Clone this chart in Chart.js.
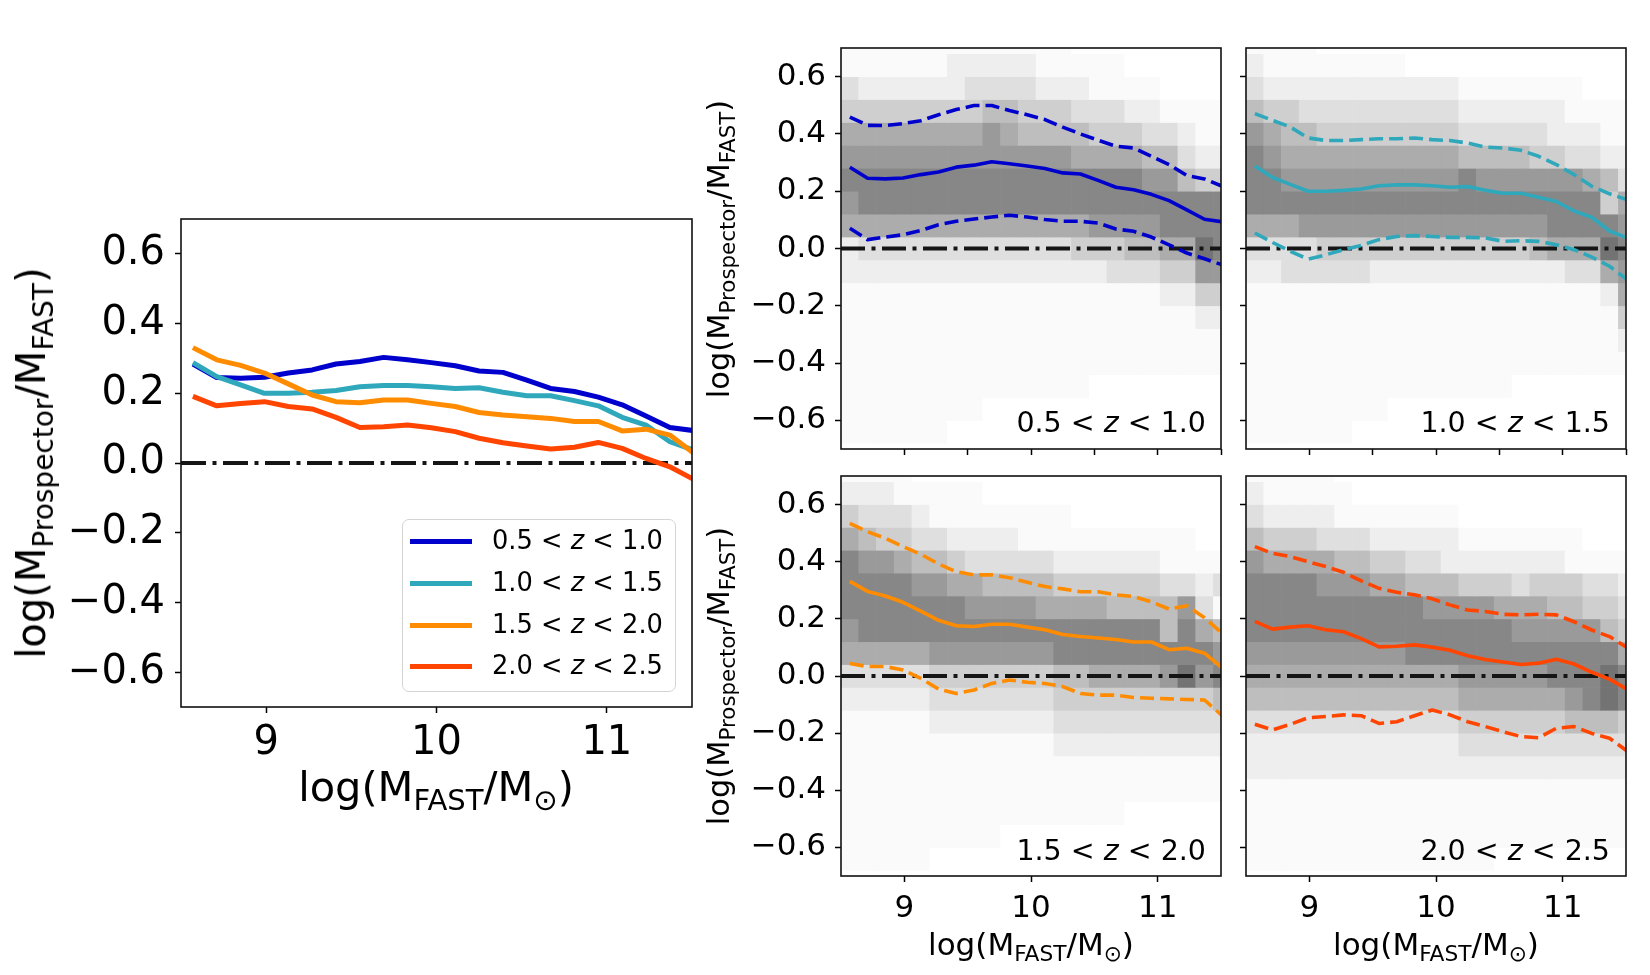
<!DOCTYPE html>
<html><head><meta charset="utf-8">
<script src="https://cdn.jsdelivr.net/npm/chart.js@4.4.0/dist/chart.umd.min.js"></script>
<style>
html,body{margin:0;padding:0;background:#fff;}
body{width:1650px;height:975px;position:relative;overflow:hidden;font-family:"DejaVu Sans",sans-serif;color:#000;}
canvas{position:absolute;}
.t{position:absolute;white-space:nowrap;line-height:1;z-index:6;}
.c{transform:translate(-50%,-50%);}
.r{transform:translate(-50%,-50%) rotate(-90deg);}
.rv{transform:translateY(-50%);}
.sub{font-size:70%;vertical-align:-0.3em;line-height:0;}
i{font-style:italic;}
</style></head>
<body>
<canvas id="cL" width="720" height="600" style="left:0px;top:180px"></canvas>
<canvas id="c1" width="510" height="460" style="left:730px;top:20px"></canvas>
<canvas id="c2" width="414" height="460" style="left:1236px;top:20px"></canvas>
<canvas id="c3" width="510" height="480" style="left:730px;top:450px"></canvas>
<canvas id="c4" width="414" height="480" style="left:1236px;top:450px"></canvas>

<div class="t r" style="left:31px;top:463px;font-size:40px">log(M<span class="sub">Prospector</span>/M<span class="sub">FAST</span>)</div>
<div class="t c" style="left:436px;top:787px;font-size:41.5px">log(M<span class="sub">FAST</span>/M<span class="sub">⊙</span>)</div>
<div class="t r" style="left:719px;top:249px;font-size:30.5px">log(M<span class="sub">Prospector</span>/M<span class="sub">FAST</span>)</div>
<div class="t r" style="left:719px;top:676px;font-size:30.5px">log(M<span class="sub">Prospector</span>/M<span class="sub">FAST</span>)</div>
<div class="t c" style="left:1031px;top:944px;font-size:31px">log(M<span class="sub">FAST</span>/M<span class="sub">⊙</span>)</div>
<div class="t c" style="left:1436px;top:944px;font-size:31px">log(M<span class="sub">FAST</span>/M<span class="sub">⊙</span>)</div>
<div id="legend" style="position:absolute;left:402px;top:519px;width:272px;height:171px;border:1.5px solid #d4d4d4;border-radius:7px;background:rgba(255,255,255,0.85);z-index:5;"></div>

<script>
// ---------------- data ----------------
const zBins = [['0.5','1.0'],['1.0','1.5'],['1.5','2.0'],['2.0','2.5']];
const zColors = ['#0000CD','#2FA8BC','#FF8C00','#FF4500'];
const xMin = 8.5, xMax = 11.5, yMin = -0.7, yMax = 0.7;
const massBins = [8.57,8.71,8.85,8.99,9.13,9.27,9.41,9.55,9.69,9.83,9.97,10.11,10.25,10.39,10.53,10.67,10.81,10.95,11.09,11.23,11.37,11.51];
const heatYEdges = [0.76,0.68,0.60,0.52,0.44,0.36,0.28,0.20,0.12,0.04,-0.04,-0.12,-0.20,-0.28,-0.36,-0.44,-0.52,-0.60,-0.68,-0.76];
const xTicksMain = [9,10,11];
const xTickLabelsMain = ['9','10','11'];
const xTicksTop = [9,9.5,10,10.5,11,11.5];
const yTicks = [-0.6,-0.4,-0.2,0.0,0.2,0.4,0.6];
const yTickLabels = ['\u22120.6','\u22120.4','\u22120.2','0.0','0.2','0.4','0.6'];
const zeroLevel = 0;

// medians
const medZ1 = [0.284,0.245,0.243,0.246,0.258,0.267,0.284,0.291,0.303,0.296,0.288,0.279,0.264,0.260,0.238,0.214,0.205,0.189,0.167,0.135,0.102,0.093];
const medZ2 = [0.288,0.248,0.224,0.200,0.200,0.203,0.208,0.219,0.222,0.222,0.219,0.214,0.216,0.203,0.193,0.193,0.179,0.164,0.131,0.109,0.061,0.037];
const medZ3 = [0.331,0.296,0.280,0.258,0.227,0.195,0.176,0.173,0.181,0.181,0.171,0.162,0.145,0.138,0.133,0.128,0.119,0.119,0.092,0.097,0.080,0.028];
const medZ4 = [0.191,0.164,0.171,0.176,0.162,0.155,0.131,0.102,0.104,0.109,0.101,0.090,0.071,0.058,0.049,0.040,0.045,0.059,0.042,0.013,-0.011,-0.047];
// upper / lower percentiles
const hiZ1 = [0.459,0.430,0.429,0.436,0.446,0.467,0.485,0.499,0.499,0.482,0.467,0.450,0.424,0.400,0.378,0.357,0.351,0.322,0.293,0.255,0.243,0.217];
const loZ1 = [0.071,0.031,0.040,0.048,0.063,0.083,0.095,0.103,0.110,0.116,0.110,0.101,0.095,0.095,0.089,0.068,0.060,0.040,0.013,-0.016,-0.036,-0.057];
const hiZ2 = [0.471,0.447,0.424,0.386,0.377,0.377,0.380,0.383,0.383,0.386,0.380,0.377,0.368,0.354,0.351,0.343,0.322,0.293,0.258,0.217,0.191,0.170];
const loZ2 = [0.054,0.021,-0.010,-0.037,-0.022,-0.004,0.011,0.031,0.042,0.045,0.042,0.039,0.039,0.037,0.025,0.027,0.025,0.013,-0.004,-0.030,-0.062,-0.109];
const hiZ3 = [0.534,0.505,0.482,0.453,0.426,0.392,0.365,0.354,0.354,0.344,0.328,0.313,0.305,0.295,0.295,0.284,0.278,0.260,0.234,0.246,0.204,0.149];
const loZ3 = [0.044,0.033,0.033,0.021,-0.008,-0.046,-0.061,-0.049,-0.026,-0.014,-0.022,-0.026,-0.037,-0.061,-0.067,-0.067,-0.075,-0.078,-0.080,-0.082,-0.084,-0.139];
const hiZ4 = [0.453,0.429,0.418,0.400,0.383,0.363,0.333,0.307,0.293,0.284,0.270,0.249,0.231,0.226,0.216,0.214,0.216,0.214,0.190,0.161,0.138,0.099];
const loZ4 = [-0.169,-0.189,-0.169,-0.146,-0.142,-0.136,-0.139,-0.166,-0.160,-0.139,-0.119,-0.136,-0.160,-0.177,-0.195,-0.212,-0.216,-0.183,-0.177,-0.201,-0.218,-0.263];

// 2D histogram density levels (0 = empty .. 9 = densest), rows top -> bottom, columns = massBins
const heatZ1 = [
"1111111111111000000000",
"1111112222211111000000",
"3222222333322211110000",
"4444444455444333221111",
"6666666676555544433211",
"7777777777777666655322",
"8888888888888888877544",
"7888888888888888888888",
"6666666666666677778888",
"2333333333333444556698",
"2222222222222223334477",
"1111111111111111112244",
"1111111111111111111122",
"1111111111111111111111",
"1111111111111111111111",
"1111111111111100000000",
"1111111100000000000000",
"1111110000000000000000",
"0000000000000000000000"];
const heatZ2 = [
"1111000000000000000000",
"2111111110000000000000",
"3222222222221111111000",
"5443333333332222221111",
"7655444444443333322211",
"8766666666665555443322",
"8877777777778777777653",
"8888888888888888888846",
"6667777777777777788887",
"3333444444444444566698",
"2233333222222222223367",
"1111111111111111111126",
"1111111111111111111114",
"1111111111111111111112",
"1111111111111111111111",
"1111111111111110000000",
"1111111100000000000000",
"1111110000000000000000",
"0000000000000000000000"];
const heatZ3 = [
"1111000000000000000000",
"2221111100000000000000",
"4333211111111000000000",
"6544332222111111111100",
"8776554333332222221111",
"8888776655554444443323",
"8888888777766665555731",
"7888888888888888885865",
"6666677777778888888887",
"3333344444445566667978",
"2222233333334444444445",
"1111122222223333333333",
"1111111111112222222222",
"1111111111111111111111",
"1111111111111111111111",
"1111111111111111000000",
"1111111110000000000000",
"1111100000000000000000",
"0000000000000000000000"];
const heatZ4 = [
"1111100000000000000000",
"2111110000000000000000",
"3222211111110000000000",
"5444333222221111111000",
"7666655443322222221111",
"8888777665554443444332",
"8888888888777766655443",
"8888888888888887777754",
"7777777778888888888886",
"6666666666667777788898",
"5555555555556666667898",
"3333333333334444445554",
"2222222222223333333333",
"2222222222222222222222",
"1111111111111111111111",
"1111111111111111111111",
"1111111111111111111111",
"1111111111111100000000",
"0000000000000000000000"];
const greyLevels = [255,250,238,223,207,190,172,154,135,115];

// ---------------- helpers ----------------
const FONT = '"DejaVu Sans", sans-serif';
function greyOf(d){ const g = greyLevels[d]; return 'rgb(' + g + ',' + g + ',' + g + ')'; }

const spinePlugin = {
  id: 'spines',
  afterDatasetsDraw(chart){
    const {ctx, chartArea: a} = chart;
    ctx.save();
    ctx.strokeStyle = '#111';
    ctx.lineWidth = 1.6;
    ctx.strokeRect(a.left, a.top, a.right - a.left, a.bottom - a.top);
    ctx.restore();
  }
};

function heatDatasets(grid){
  const out = [];
  for (let r = 0; r < grid.length; r++){
    out.push({
      type: 'bar',
      data: massBins.map(x => ({x: x, y: [heatYEdges[r + 1], heatYEdges[r]]})),
      backgroundColor: massBins.map((x, j) => greyOf(+grid[r][j])),
      borderWidth: 0, borderSkipped: false, grouped: false,
      barPercentage: 1, categoryPercentage: 1, order: 20, clip: 0
    });
  }
  return out;
}
function lineDs(vals, color, width, dash, order){
  return {
    type: 'line',
    data: massBins.map((x, i) => ({x: x, y: vals[i]})),
    borderColor: color, borderWidth: width, borderDash: dash || [],
    pointRadius: 0, pointHoverRadius: 0, fill: false, tension: 0,
    borderJoinStyle: 'round', borderCapStyle: 'butt', order: order, clip: 0
  };
}
function zeroDs(width, dash){
  return {
    type: 'line',
    data: [{x: xMin, y: zeroLevel}, {x: xMax, y: zeroLevel}],
    borderColor: '#151515', borderWidth: width, borderDash: dash,
    pointRadius: 0, fill: false, order: 10, clip: 0
  };
}
function zeroPad(s){ s.paddingLeft = 0; s.paddingRight = 0; s.paddingTop = 0; s.paddingBottom = 0; }

function makeChart(id, type, datasets, o){
  const grid = {display: true, drawOnChartArea: false, drawTicks: true, tickLength: 6, tickWidth: 1.5, tickColor: '#000', offset: false};
  return new Chart(document.getElementById(id), {
    type: type,
    data: {datasets: datasets},
    options: {
      responsive: false, maintainAspectRatio: false, animation: false, events: [],
      layout: {padding: {left: 0, top: o.padTop, right: o.padRight, bottom: 0}},
      plugins: {legend: {display: false}, tooltip: {enabled: false}, title: {display: false}},
      scales: {
        x: {
          type: 'linear', min: xMin, max: xMax, offset: false,
          afterBuildTicks: s => { s.ticks = o.xTicks.map(v => ({value: v})); },
          afterFit: s => { s.height = o.xh; zeroPad(s); },
          ticks: {autoSkip: false, maxRotation: 0, minRotation: 0, padding: o.xpad, color: '#000',
                  font: {family: FONT, size: o.fs},
                  callback: (v, i) => o.xLabels ? o.xLabels[i] : ''},
          grid: grid, border: {display: false}
        },
        y: {
          type: 'linear', min: yMin, max: yMax, beginAtZero: false,
          afterBuildTicks: s => { s.ticks = yTicks.map(v => ({value: v})); },
          afterFit: s => { s.width = o.yw; zeroPad(s); },
          ticks: {autoSkip: false, padding: o.ypad, color: '#000',
                  font: {family: FONT, size: o.fs},
                  callback: (v, i) => o.yLabels ? o.yLabels[i] : ''},
          grid: grid, border: {display: false}
        }
      }
    },
    plugins: [spinePlugin]
  });
}

// ---------------- left summary panel ----------------
const meds = [medZ1, medZ2, medZ3, medZ4];
const leftSets = [];
for (let k = 3; k >= 0; k--) leftSets.push(lineDs(meds[k], zColors[k], 5, null, 3 - k));
leftSets.push(zeroDs(4, [25, 6.5, 4, 6.5]));
makeChart('cL', 'line', leftSets, {padTop: 39, padRight: 28, yw: 181, xh: 73, fs: 40, xpad: 7, ypad: 10,
  xTicks: xTicksMain, xLabels: xTickLabelsMain, yLabels: yTickLabels});

// ---------------- four density panels ----------------
const panels = [
  {id: 'c1', heat: heatZ1, med: medZ1, hi: hiZ1, lo: loZ1, k: 0, o: {padTop: 28, padRight: 19, yw: 111, xh: 31, xTicks: xTicksTop, xLabels: null, yLabels: yTickLabels}},
  {id: 'c2', heat: heatZ2, med: medZ2, hi: hiZ2, lo: loZ2, k: 1, o: {padTop: 28, padRight: 24, yw: 10, xh: 31, xTicks: xTicksTop, xLabels: null, yLabels: null}},
  {id: 'c3', heat: heatZ3, med: medZ3, hi: hiZ3, lo: loZ3, k: 2, o: {padTop: 26, padRight: 19, yw: 111, xh: 54, xTicks: xTicksMain, xLabels: xTickLabelsMain, yLabels: yTickLabels}},
  {id: 'c4', heat: heatZ4, med: medZ4, hi: hiZ4, lo: loZ4, k: 3, o: {padTop: 26, padRight: 24, yw: 10, xh: 54, xTicks: xTicksMain, xLabels: xTickLabelsMain, yLabels: null}}
];
panels.forEach(p => {
  const ds = [
    lineDs(p.med, zColors[p.k], 3.6, null, 1),
    lineDs(p.hi, zColors[p.k], 3.6, [14, 6], 2),
    lineDs(p.lo, zColors[p.k], 3.6, [14, 6], 2),
    zeroDs(3.8, [24, 6.5, 4, 6.5])
  ].concat(heatDatasets(p.heat));
  const o = Object.assign({fs: 31, xpad: 8, ypad: 9}, p.o);
  makeChart(p.id, 'bar', ds, o);
});

// ---------------- annotations + legend (text) ----------------
function zText(b){ return b[0] + ' &lt; <i>z</i> &lt; ' + b[1]; }
const annPos = [{right: 444, top: 423}, {right: 40, top: 423}, {right: 444, top: 851}, {right: 40, top: 851}];
annPos.forEach((a, k) => {
  const d = document.createElement('div');
  d.className = 't rv';
  d.style.cssText = 'right:' + a.right + 'px;top:' + a.top + 'px;font-size:28.5px;';
  d.innerHTML = zText(zBins[k]);
  document.body.appendChild(d);
});
const legRows = [541, 583, 625, 666];
legRows.forEach((yc, k) => {
  const ln = document.createElement('div');
  ln.style.cssText = 'position:absolute;z-index:6;left:410px;width:62px;height:5px;top:' + (yc - 2.5) + 'px;background:' + zColors[k] + ';';
  document.body.appendChild(ln);
  const tx = document.createElement('div');
  tx.className = 't rv';
  tx.style.cssText = 'left:492px;top:' + yc + 'px;font-size:25.7px;';
  tx.innerHTML = zText(zBins[k]);
  document.body.appendChild(tx);
});
</script>
</body></html>
